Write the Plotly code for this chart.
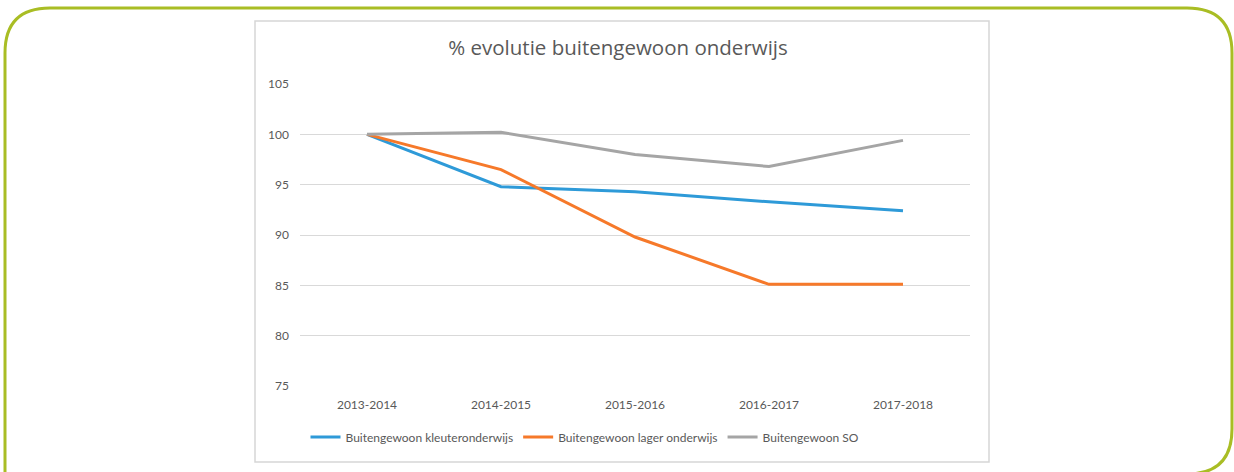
import plotly.graph_objects as go

years = ["2013-2014", "2014-2015", "2015-2016", "2016-2017", "2017-2018"]
kleuter = [100, 94.8, 94.3, 93.3, 92.4]
lager = [100, 96.5, 89.8, 85.1, 85.1]
so = [100, 100.2, 98.0, 96.8, 99.4]

names = ["Buitengewoon kleuteronderwijs", "Buitengewoon lager onderwijs", "Buitengewoon SO"]
colors = ["#2e9ad8", "#f6792a", "#a5a5a5"]

W, H = 1234, 472
PL, PR, PT, PB = 300, 970, 84, 386
FONT = "Lato"
TXT = "#595959"

def px(x):
    return (x - PL) / (PR - PL)

def py(y):
    return (PB - y) / (PB - PT)

fig = go.Figure()
for series, name, col in zip([kleuter, lager, so], names, colors):
    fig.add_trace(go.Scatter(x=years, y=series, name=name, mode="lines",
                             line=dict(color=col, width=3)))

# green frame: straight left side, rounded top corners and bottom-right corner
L, T, R, B, r = 5, 8, 1232, 474, 45
path = (f"M {px(L)},{py(B + 60)} L {px(L)},{py(T + r)} "
        f"Q {px(L)},{py(T)} {px(L + r)},{py(T)} "
        f"L {px(R - r)},{py(T)} Q {px(R)},{py(T)} {px(R)},{py(T + r)} "
        f"L {px(R)},{py(B - r)} Q {px(R)},{py(B)} {px(R - r)},{py(B)} "
        f"L {px(L + 60)},{py(B + 3)}")
fig.add_shape(type="path", xref="paper", yref="paper", path=path,
              line=dict(color="#a9bd24", width=3), layer="below")
# chart box
fig.add_shape(type="rect", xref="paper", yref="paper",
              x0=px(255), y0=py(21), x1=px(989), y1=py(462),
              line=dict(color="#d6d6d6", width=1.5), layer="below")

fig.update_layout(
    width=W, height=H,
    margin=dict(l=PL, r=W - PR, t=PT, b=H - PB),
    paper_bgcolor="white", plot_bgcolor="white",
    font=dict(family=FONT, color=TXT),
    title=dict(text="% evolutie buitengewoon onderwijs", xref="container",
               x=618 / W, xanchor="center", yref="container",
               y=1 - 48 / H, yanchor="middle",
               font=dict(family="Open Sans", size=20.5, color=TXT)),
    showlegend=True,
    legend=dict(orientation="h", x=px(585), xanchor="center", y=py(437), yanchor="middle",
                font=dict(family=FONT, size=12, color=TXT), itemwidth=30,
                bgcolor="rgba(0,0,0,0)", tracegroupgap=0),
    xaxis=dict(showgrid=False, zeroline=False, showline=False, ticks="",
               range=[-0.5, 4.5],
               tickfont=dict(family=FONT, size=12, color=TXT), ticklabelstandoff=10,
               fixedrange=True),
    yaxis=dict(range=[75, 105], dtick=5, tick0=75, showgrid=True, gridcolor="#d9d9d9",
               gridwidth=1, zeroline=False, showline=False, ticks="",
               tickfont=dict(family=FONT, size=12, color=TXT), ticklabelstandoff=10,
               fixedrange=True),
)

fig.write_html("out.html", config={"displayModeBar": False},
               post_script="document.body.style.margin='0';")
